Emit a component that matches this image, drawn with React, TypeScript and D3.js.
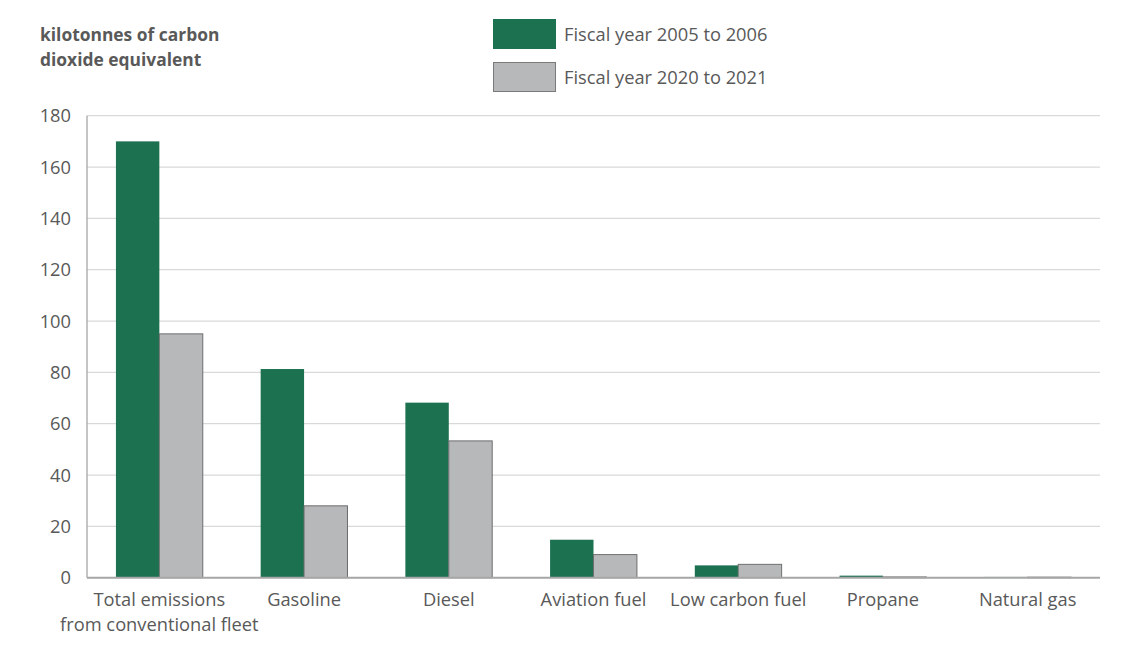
import { scaleBand, scaleLinear } from "d3";

const totalWidth = 1140;
const totalHeight = 651;
const left = 87;
const right = 1100;
const top = 115.7;
const bottom = 577.7;

const categories = [
  ["Total emissions", "from conventional fleet"],
  ["Gasoline"],
  ["Diesel"],
  ["Aviation fuel"],
  ["Low carbon fuel"],
  ["Propane"],
  ["Natural gas"],
];
const fy2005 = [170, 81.3, 68.2, 14.8, 4.8, 0.8, 0.3];
const fy2020 = [95, 28, 53.3, 9, 5.2, 0.3, 0.2];
const yTicks = [0, 20, 40, 60, 80, 100, 120, 140, 160, 180];
const seriesNames = ["Fiscal year 2005 to 2006", "Fiscal year 2020 to 2021"];

const green = "#1c7150";
const grey = "#b7b8ba";
const textColor = "#595959";
const font = "'Open Sans', 'Noto Sans', sans-serif";
const labelSize = 18.3;

export default function App() {
  const xScale = scaleBand<number>()
    .domain(categories.map((_, i) => i))
    .range([left, right])
    .paddingInner(0.4)
    .paddingOuter(0.2);
  const yScale = scaleLinear().domain([0, 180]).range([bottom, top]);
  const barWidth = xScale.bandwidth() / 2;

  return (
    <svg
      width={totalWidth}
      height={totalHeight}
      style={{ position: "absolute", left: 0, top: 0 }}
      fontFamily={font}
    >
      <text x={40} y={41} fontSize={17.4} fontWeight="bold" fill={textColor}>
        kilotonnes of carbon
      </text>
      <text x={40} y={66} fontSize={17.4} fontWeight="bold" fill={textColor}>
        dioxide equivalent
      </text>

      {/* legend */}
      <rect x={493} y={19} width={63} height={30} fill={green} />
      <text x={564} y={41} fontSize={labelSize} fill={textColor}>
        {seriesNames[0]}
      </text>
      <rect
        x={493.5}
        y={62.5}
        width={62}
        height={29}
        fill={grey}
        stroke="#7a7a7a"
      />
      <text x={564} y={84} fontSize={labelSize} fill={textColor}>
        {seriesNames[1]}
      </text>

      {/* grid */}
      {yTicks.map((t) => (
        <g key={t}>
          {t > 0 && (
            <line
              x1={left}
              x2={right}
              y1={yScale(t)}
              y2={yScale(t)}
              stroke="#d9d9d9"
              strokeWidth={1.3}
            />
          )}
          <text
            x={71}
            y={yScale(t) + 6.5}
            textAnchor="end"
            fontSize={labelSize}
            fill={textColor}
          >
            {t}
          </text>
        </g>
      ))}
      <line x1={left} x2={left} y1={top} y2={bottom} stroke="#a6a6a6" strokeWidth={1.3} />

      {/* bars */}
      {categories.map((_, i) => {
        const x0 = xScale(i) ?? 0;
        return (
          <g key={i}>
            <rect
              x={x0}
              y={yScale(fy2005[i])}
              width={barWidth}
              height={bottom - yScale(fy2005[i])}
              fill={green}
            />
            <rect
              x={x0 + barWidth}
              y={yScale(fy2020[i])}
              width={barWidth}
              height={bottom - yScale(fy2020[i])}
              fill={grey}
              stroke="#6e6e6e"
              strokeWidth={1}
            />
          </g>
        );
      })}
      <line x1={left} x2={right} y1={bottom} y2={bottom} stroke="#a6a6a6" strokeWidth={2} />

      {/* x labels */}
      {categories.map((lines, i) => (
        <text
          key={i}
          x={(xScale(i) ?? 0) + xScale.bandwidth() / 2}
          y={606}
          textAnchor="middle"
          fontSize={labelSize}
          fill={textColor}
        >
          {lines.map((l, j) => (
            <tspan key={j} x={(xScale(i) ?? 0) + xScale.bandwidth() / 2} dy={j === 0 ? 0 : 25}>
              {l}
            </tspan>
          ))}
        </text>
      ))}
    </svg>
  );
}
